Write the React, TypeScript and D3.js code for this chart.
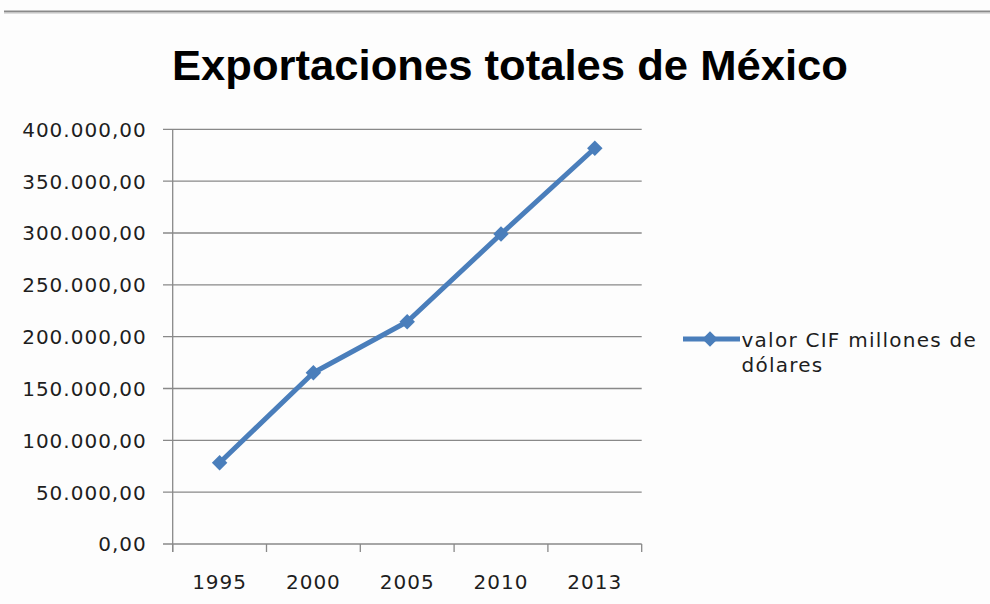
import React from "react";
import * as d3 from "d3";

const years = ["1995", "2000", "2005", "2010", "2013"];
const values = [78400, 165200, 214400, 299000, 381700];
const yTicks = [0, 50000, 100000, 150000, 200000, 250000, 300000, 350000, 400000];
const title = "Exportaciones totales de México";
const legendLines = ["valor CIF millones de", "dólares"];

const W = 990;
const H = 604;
const left = 172.7;
const right = 641.7;
const top = 129.3;
const bottom = 544;
const blue = "#4A7EBB";
const axisGray = "#898989";
const textColor = "#1e1e1e";

const fmt = (v: number) => {
  const s = Math.round(v).toString().replace(/\B(?=(\d{3})+(?!\d))/g, ".");
  return s + ",00";
};

export default function App() {
  const x = d3.scaleBand<string>().domain(years).range([left, right]).paddingInner(0).paddingOuter(0);
  const y = d3.scaleLinear().domain([0, 400000]).range([bottom, top]);
  const pts = years.map((yr, i) => [x(yr)! + x.bandwidth() / 2, y(values[i])] as [number, number]);
  const line = d3.line()(pts) || "";
  const diamond = d3.symbol().type(d3.symbolSquare).size(120)() || "";
  const boundaries = [...years.map((yr) => x(yr)!), right];
  const font = "'DejaVu Sans', Verdana, sans-serif";

  return (
    <svg width={W} height={H} style={{ position: "absolute", left: 0, top: 0, background: "#fff" }}>
      <rect x={0} y={0} width={W} height={H} fill="#fdfdfd" />
      <line x1={4} x2={W} y1={11.5} y2={11.5} stroke="#8a8a8a" strokeWidth={2} />
      <line x1={4} x2={W} y1={13.2} y2={13.2} stroke="#cfcfcf" strokeWidth={1} />
      <text
        x={510}
        y={80}
        textAnchor="middle"
        fontFamily="'Liberation Sans', Arial, sans-serif"
        fontWeight="bold"
        fontSize={43}
        textLength={676}
        lengthAdjust="spacingAndGlyphs"
        fill="#000"
      >
        {title}
      </text>
      {yTicks.map((t) => (
        <g key={t}>
          <line x1={163} x2={right} y1={y(t)} y2={y(t)} stroke={axisGray} strokeWidth={1.3} />
          <text
            x={146.7}
            y={y(t) + 7.4}
            textAnchor="end"
            fontFamily={font}
            fontSize={20}
            letterSpacing={1}
            fill={textColor}
          >
            {fmt(t)}
          </text>
        </g>
      ))}
      <line x1={left} x2={left} y1={top} y2={bottom + 8} stroke={axisGray} strokeWidth={1.3} />
      {boundaries.map((bx, i) => (
        <line key={i} x1={bx} x2={bx} y1={bottom} y2={bottom + 8} stroke={axisGray} strokeWidth={1.3} />
      ))}
      {years.map((yr) => (
        <text
          key={yr}
          x={x(yr)! + x.bandwidth() / 2}
          y={589}
          textAnchor="middle"
          fontFamily={font}
          fontSize={20}
          letterSpacing={1}
          fill={textColor}
        >
          {yr}
        </text>
      ))}
      <path d={line} fill="none" stroke={blue} strokeWidth={5} strokeLinejoin="round" />
      {pts.map((p, i) => (
        <path key={i} d={diamond} transform={`translate(${p[0]},${p[1]}) rotate(45)`} fill={blue} />
      ))}
      <line x1={683} x2={740} y1={339} y2={339} stroke={blue} strokeWidth={5} />
      <path d={diamond} transform="translate(710,339) rotate(45)" fill={blue} />
      {legendLines.map((l, i) => (
        <text
          key={i}
          x={741.5}
          y={346.5 + i * 25.5}
          fontFamily={font}
          fontSize={20}
          letterSpacing={1.25}
          fill={textColor}
        >
          {l}
        </text>
      ))}
    </svg>
  );
}
